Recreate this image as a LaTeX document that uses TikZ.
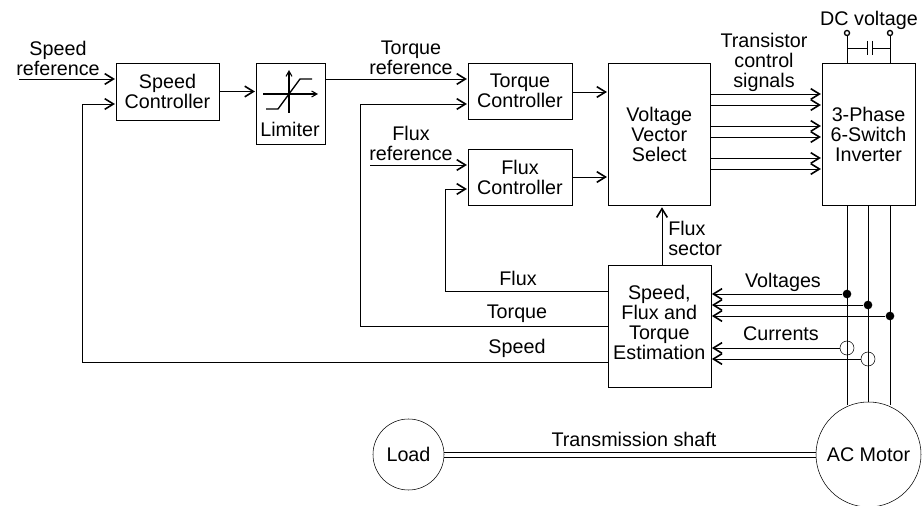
\documentclass[tikz,border=0pt]{standalone}
\usepackage{fontspec}
\setmainfont{Liberation Sans}
\usetikzlibrary{arrows.meta}
\tikzset{
  x=0.75pt,y=-0.75pt,
  line width=1.35pt,
  every node/.style={font=\fontsize{14.8}{15}\selectfont,align=center,inner sep=0pt},
  blockbox/.style={draw,rectangle,minimum width=#1*0.75pt,inner sep=0pt},
  ar/.style={-{Straight Barb[length=6.5pt,width=8pt,line width=1.2pt]},shorten >=0.6pt},
  dotj/.style={fill,circle,minimum size=6.5pt,inner sep=0pt},
  ringj/.style={draw,circle,minimum size=10.5pt,inner sep=0pt},
  term/.style={draw,fill=white,circle,minimum size=3.8pt,inner sep=0pt,line width=1pt},
}
\begin{document}
\begin{tikzpicture}
\useasboundingbox (0,0) rectangle (922,506);
% blocks
\node[blockbox=103,minimum height=42.75pt] (sc) at (167.5,91.5) {Speed\\Controller};
\node[blockbox=69,minimum height=60.75pt] (lim) at (290.5,103.5) {};
\node[anchor=base] (limt) at (290,137) {Limiter};
\node[blockbox=104,minimum height=42pt] (tc) at (520,91) {Torque\\Controller};
\node[blockbox=104,minimum height=42pt] (fc) at (520,177) {Flux\\Controller};
\node[blockbox=102.5,minimum height=106.5pt] (vvs) at (659.3,134) {Voltage\\Vector\\Select};
\node[blockbox=93,minimum height=106.5pt] (inv) at (868.5,134) {3-Phase\\6-Switch\\Inverter};
\node[blockbox=103,minimum height=91.5pt] (est) at (659.3,326) {};
\node (estt) at (659.3,322) {Speed,\\Flux and\\Torque\\Estimation};
\node[draw,circle,minimum size=53.25pt] (load) at (408.5,454.5) {Load};
\node[draw,circle,minimum size=78.75pt] (motor) at (868.5,454.5) {AC Motor};
% limiter icon
\draw[line width=0.8pt,-{Straight Barb[length=4pt,width=4.5pt,line width=0.8pt]}] (263,94) -- (318,94);
\draw[line width=0.8pt,-{Straight Barb[length=4pt,width=4.5pt,line width=0.8pt]}] (289,113) -- (289,70);
\draw[line width=1pt] (266,109) -- (278,109) -- (300,79) -- (312,79);
% inputs
\coordinate (spin) at (19,79);
\draw[ar] (spin) -- (sc.west|-spin);
\node (spl) at (58,58) {Speed\\reference};
\draw[ar] (sc.east) -- (lim.west|-sc.east);
\coordinate (tr) at (326,79);
\draw[ar] (lim.east|-tr) -- (tc.west|-tr);
\node (trl) at (411,58) {Torque\\reference};
\coordinate (frin) at (370,165);
\draw[ar] (frin) -- (fc.west|-frin);
\node (frl) at (411,143.5) {Flux\\reference};
\coordinate (a1) at (590,92);
\draw[ar] (tc.east|-a1) -- (vvs.west|-a1);
\coordinate (a2) at (590,177);
\draw[ar] (fc.east|-a2) -- (vvs.west|-a2);
% vvs to inverter
\foreach \y in {94,105,126,137,158,169} {
  \draw[ar] (vvs.east|-0,\y) -- (inv.west|-0,\y);
}
\node (tcs) at (764,62) {Transistor\\control\\signals};
% flux sector
\coordinate (fs) at (662,235);
\draw[ar,shorten >=1.5pt] (est.north-|fs) -- (vvs.south-|fs);
\node[align=left,anchor=west] (fsl) at (668,238) {Flux\\sector};
% feedback
\coordinate (fb1) at (445,291);
\draw[ar] (est.west|-fb1) -- (fb1) -- (fb1|-0,189) -- (fc.west|-0,189);
\node (fxl) at (518,278) {Flux};
\coordinate (fb2) at (360,326);
\draw[ar] (est.west|-fb2) -- (fb2) -- (fb2|-0,104) -- (tc.west|-0,104);
\node (tql) at (517,314) {Torque};
\coordinate (fb3) at (82,362);
\draw[ar] (est.west|-fb3) -- (fb3) -- (fb3|-0,104) -- (sc.west|-0,104);
\node (spdl) at (517,348.5) {Speed};
% motor phases
\coordinate (m1) at (847,405);
\coordinate (m2) at (868,402);
\coordinate (m3) at (890,405);
\draw (inv.south-|m1) -- (m1);
\draw (inv.south-|m2) -- (m2);
\draw (inv.south-|m3) -- (m3);
\node[dotj] (d1) at (847,294) {};
\node[dotj] (d2) at (868,305) {};
\node[dotj] (d3) at (890,316) {};
\node[ringj] (r1) at (847,348) {};
\node[ringj] (r2) at (868,359) {};
\draw[ar] (d1) -- (est.east|-d1);
\draw[ar] (d2) -- (est.east|-d2);
\draw[ar] (d3) -- (est.east|-d3);
\draw[ar] (r1.west) -- (est.east|-r1);
\draw[ar] (r2.west) -- (est.east|-r2);
\node (vl) at (783,282) {Voltages};
\node (cl) at (781,334) {Currents};
% shaft
\draw (load.east|-0,452.3) -- (motor.west|-0,452.3);
\draw (load.east|-0,457.5) -- (motor.west|-0,457.5);
\node (shl) at (634,439) {Transmission shaft};
% DC
\node (dcl) at (869,20) {DC voltage};
\node[term] (t1) at (847,33) {};
\node[term] (t2) at (890,33) {};
\draw (t1) -- (inv.north-|t1);
\draw (t2) -- (inv.north-|t2);
\coordinate (c1) at (867,48);
\coordinate (c2) at (872,48);
\draw (t1|-c1) -- (c1);
\draw (c2) -- (t2|-c2);
\draw (c1)++(0,-7) -- ++(0,14);
\draw (c2)++(0,-7) -- ++(0,14);
\end{tikzpicture}
\end{document}
